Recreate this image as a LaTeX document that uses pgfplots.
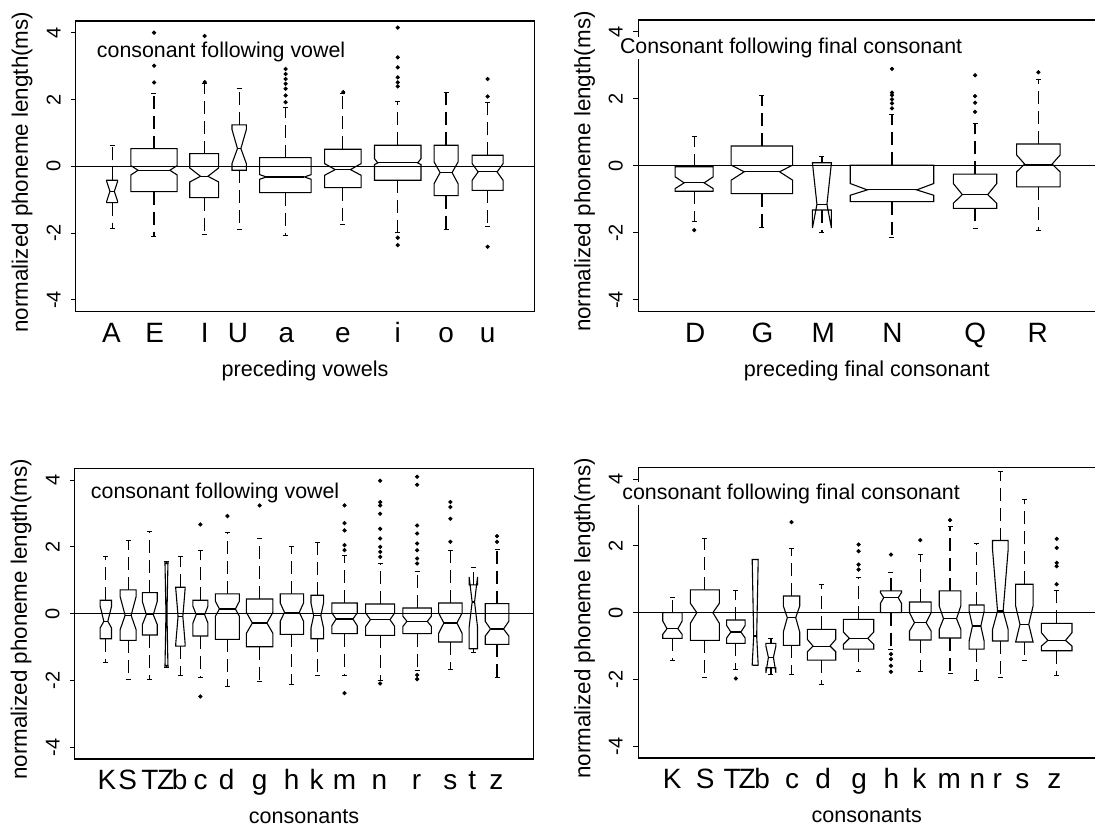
\documentclass[border=0pt]{standalone}
\usepackage{fontspec}
\setmainfont{Liberation Sans}
\usepackage{pgfplots}
\usepackage{pgfplotstable}
\pgfplotsset{compat=1.18}

% boxes: x-centre (px), half width (px), notch inset (px), q1, lower notch, median, upper notch, q3, lower whisker, upper whisker
\pgfplotstableread{
x hw ni q1 nlo med nhi q3 wlo whi
112.3 5.5 3.3 -1.09 -1.05 -0.75 -0.45 -0.42 -1.86 0.63
154.2 23.2 7.3 -0.76 -0.26 -0.12 0.02 0.53 -2.09 2.17
204.5 14.5 10.8 -0.94 -0.47 -0.30 -0.05 0.38 -2.03 2.47
239.5 7.2 5.5 -0.12 0.08 0.53 1.10 1.24 -1.88 2.34
285.8 25.8 6.7 -0.79 -0.39 -0.32 -0.25 0.26 -2.08 1.77
343.3 18.3 10.7 -0.64 -0.27 -0.10 0.08 0.51 -1.74 2.19
398.3 23.3 3.3 -0.42 0.05 0.10 0.23 0.63 -1.99 1.94
446.7 12.0 6.0 -0.88 -0.52 -0.19 0.13 0.63 -1.88 2.22
488.3 15.5 6.0 -0.72 -0.42 -0.17 0.08 0.33 -1.81 1.90
}\boxA
\pgfplotstableread{
x y
154.3 4.00
154.3 3.01
154.3 2.51
205.0 3.90
205.0 2.52
286.0 1.92
286.0 2.12
286.0 2.32
286.0 2.47
286.0 2.61
286.0 2.76
286.0 2.91
343.7 2.22
398.3 2.39
398.3 2.51
398.3 2.66
398.3 2.96
398.3 3.26
398.3 4.15
398.3 -2.14
398.3 -2.36
488.3 2.09
488.3 2.61
488.3 -2.41
}\outA

\pgfplotstableread{
x hw ni q1 nlo med nhi q3 wlo whi
695.0 19.0 9.0 -0.76 -0.68 -0.51 -0.33 -0.03 -1.65 0.87
762.7 30.7 13.0 -0.83 -0.43 -0.18 0.02 0.59 -1.85 2.09
822.7 9.5 4.5 -1.32 -1.86 -1.15 0.09 0.09 -2.00 0.29
892.7 41.7 17.0 -1.07 -0.88 -0.72 -0.53 0.02 -2.15 1.53
975.7 21.7 9.0 -1.27 -1.12 -0.86 -0.53 -0.25 -1.88 1.26
1039.0 21.7 8.0 -0.63 -0.18 0.05 0.32 0.65 -1.94 2.58
}\boxB
\pgfplotstableread{
x y
695.0 -1.92
892.7 1.71
892.7 1.86
892.7 1.98
892.7 2.11
892.7 2.18
892.7 2.89
975.7 1.61
975.7 1.88
975.7 2.08
975.7 2.70
1039.0 2.79
}\outB

\pgfplotstableread{
x hw ni q1 nlo med nhi q3 wlo whi
106.0 5.7 3.7 -0.75 -0.43 -0.23 0.22 0.40 -1.47 1.72
128.3 8.0 5.0 -0.80 -0.48 -0.05 0.51 0.71 -1.96 2.20
150.0 7.5 4.0 -0.64 -0.33 -0.03 0.37 0.63 -1.96 2.45
166.7 1.5 1.0 -1.55 -1.61 0.00 1.55 1.50 -1.61 1.55
180.7 4.7 2.3 -0.97 -0.90 -0.08 0.75 0.79 -1.84 1.70
200.7 7.5 3.3 -0.67 -0.28 -0.03 0.22 0.40 -1.92 1.90
227.7 12.0 4.0 -0.77 -0.08 0.14 0.37 0.59 -2.19 2.42
260.0 13.3 6.0 -0.99 -0.59 -0.28 0.04 0.44 -2.04 2.25
292.3 11.7 4.3 -0.62 -0.23 0.04 0.32 0.59 -2.12 2.00
317.7 6.3 2.7 -0.75 -0.43 -0.06 0.32 0.55 -1.84 2.12
345.0 12.7 4.3 -0.60 -0.36 -0.16 0.02 0.32 -1.84 1.75
380.7 14.5 4.7 -0.65 -0.38 -0.18 0.02 0.29 -2.01 1.50
417.7 14.2 4.0 -0.60 -0.38 -0.23 -0.08 0.17 -1.71 1.26
451.0 11.8 5.3 -0.85 -0.59 -0.28 0.02 0.32 -1.66 1.90
474.0 4.2 3.0 -1.05 -0.40 0.35 1.10 0.86 -1.15 1.39
497.7 11.8 5.3 -0.92 -0.67 -0.46 -0.23 0.30 -1.91 1.92
}\boxC
\pgfplotstableread{
x y
200.7 2.67
200.7 -2.48
227.7 2.92
260.0 3.24
345.0 1.90
345.0 2.05
345.0 2.49
345.0 2.71
345.0 3.24
345.0 -2.38
380.7 1.70
380.7 1.85
380.7 2.00
380.7 2.25
380.7 2.54
380.7 2.99
380.7 3.24
380.7 3.34
380.7 3.98
380.7 -2.09
417.7 1.50
417.7 1.65
417.7 1.90
417.7 2.10
417.7 2.40
417.7 2.64
417.7 3.86
417.7 4.10
417.7 -1.84
417.7 -1.96
451.0 2.15
451.0 2.84
451.0 3.19
451.0 3.34
497.7 2.15
497.7 2.32
}\outC

\pgfplotstableread{
x hw ni q1 nlo med nhi q3 wlo whi
673.3 9.7 4.3 -0.77 -0.65 -0.48 -0.25 0.00 -1.44 0.45
705.7 14.5 6.5 -0.83 -0.32 0.00 0.28 0.68 -1.95 2.21
736.7 9.3 4.3 -0.92 -0.76 -0.58 -0.38 -0.22 -1.69 0.65
756.0 3.0 1.5 -1.57 -1.57 -0.70 1.59 1.59 -1.57 1.59
771.7 5.0 2.5 -1.65 -1.80 -1.34 -1.00 -0.92 -1.84 -0.78
792.3 8.2 4.0 -0.98 -0.58 -0.15 0.20 0.50 -1.85 1.91
822.3 14.2 5.7 -1.42 -1.17 -1.00 -0.80 -0.50 -2.15 0.85
859.3 15.2 6.0 -1.09 -0.95 -0.77 -0.58 -0.20 -1.77 1.04
891.7 10.5 3.3 0.00 0.28 0.45 0.60 0.65 -1.09 1.19
921.0 10.8 5.0 -0.82 -0.55 -0.30 0.00 0.32 -1.77 1.74
950.7 10.8 4.3 -0.76 -0.50 -0.18 0.20 0.65 -1.81 2.57
977.3 7.5 3.3 -1.09 -0.85 -0.40 0.05 0.23 -2.04 2.06
1001.0 7.8 5.0 -0.85 -0.50 0.05 1.89 2.16 -1.95 4.23
1025.0 8.7 4.3 -0.88 -0.88 -0.35 0.20 0.85 -1.42 3.40
1057.3 15.3 6.5 -1.14 -1.00 -0.83 -0.60 -0.32 -1.87 0.65
}\boxD
\pgfplotstableread{
x y
736.7 -1.97
792.3 2.71
859.3 1.29
859.3 1.44
859.3 1.84
859.3 2.04
891.7 1.74
891.7 -1.24
891.7 -1.39
891.7 -1.59
891.7 -1.77
921.0 2.17
950.7 2.77
1057.3 0.85
1057.3 1.39
1057.3 1.49
1057.3 1.94
1057.3 2.21
}\outD

\newcommand\drawboxes[1]{%
  \pgfplotstablegetrowsof{#1}%
  \pgfmathtruncatemacro\nrows{\pgfplotsretval-1}%
  \pgfplotsforeachungrouped \rr in {0,...,\nrows}{%
    \pgfplotstablegetelem{\rr}{x}\of#1\let\bx\pgfplotsretval
    \pgfplotstablegetelem{\rr}{hw}\of#1\let\bhw\pgfplotsretval
    \pgfplotstablegetelem{\rr}{ni}\of#1\let\bni\pgfplotsretval
    \pgfplotstablegetelem{\rr}{q1}\of#1\let\bqa\pgfplotsretval
    \pgfplotstablegetelem{\rr}{nlo}\of#1\let\bnlo\pgfplotsretval
    \pgfplotstablegetelem{\rr}{med}\of#1\let\bmed\pgfplotsretval
    \pgfplotstablegetelem{\rr}{nhi}\of#1\let\bnhi\pgfplotsretval
    \pgfplotstablegetelem{\rr}{q3}\of#1\let\bqc\pgfplotsretval
    \pgfplotstablegetelem{\rr}{wlo}\of#1\let\bwlo\pgfplotsretval
    \pgfplotstablegetelem{\rr}{whi}\of#1\let\bwhi\pgfplotsretval
    \pgfmathsetmacro\xl{\bx-\bhw}%
    \pgfmathsetmacro\xr{\bx+\bhw}%
    \pgfmathsetmacro\xil{\xl+\bni}%
    \pgfmathsetmacro\xir{\xr-\bni}%
    \pgfmathsetmacro\sl{\bx-2.5}%
    \pgfmathsetmacro\sr{\bx+2.5}%
    \edef\doit{%
      \noexpand\addplot[boxln] coordinates {(\xl,\bqa) (\xl,\bnlo) (\xil,\bmed) (\xl,\bnhi) (\xl,\bqc) (\xr,\bqc) (\xr,\bnhi) (\xir,\bmed) (\xr,\bnlo) (\xr,\bqa)} -- cycle;
      \noexpand\addplot[boxln] coordinates {(\xil,\bmed) (\xir,\bmed)};
      \noexpand\addplot[whisk] coordinates {(\bx,\bqc) (\bx,\bwhi)};
      \noexpand\addplot[whisk] coordinates {(\bx,\bqa) (\bx,\bwlo)};
      \noexpand\addplot[boxln] coordinates {(\sl,\bwhi) (\sr,\bwhi)};
      \noexpand\addplot[boxln] coordinates {(\sl,\bwlo) (\sr,\bwlo)};
    }\doit
  }%
}

\pgfplotsset{
  boxln/.style={black, line width=0.55pt, line join=miter, mark=none},
  whisk/.style={black, line width=0.6pt, dash pattern=on 6.5pt off 3.5pt, mark=none},
  outl/.style={black, only marks, mark=*, mark size=0.85pt},
  panel/.style={
    scale only axis,
    anchor=north west,
    ymin=-4.35, ymax=4.35,
    ytick={-4,-2,0,2,4},
    yticklabels={-4,-2,0,2,4},
    tick align=outside,
    major tick length=2.5pt,
    ytick pos=left,
    xtick pos=bottom,
    xtick style={draw=none},
    ytick style={black, line width=0.5pt},
    axis line style={black, line width=0.6pt},
    yticklabel style={rotate=90, anchor=south, inner sep=5pt, font=\fontsize{10}{12}\selectfont},
    xticklabel style={anchor=base, inner sep=0pt, yshift=-13pt, font=\fontsize{14}{16}\selectfont},
    ylabel={normalized phoneme length(ms)},
    ylabel style={at={(axis description cs:-0.1046,0.48)}, anchor=base, font=\fontsize{11.2}{13}\selectfont},
    xlabel style={at={(axis description cs:0.5,0)}, anchor=base, yshift=-32.5pt, font=\fontsize{10.8}{13}\selectfont},
    clip mode=individual,
  },
  openpanel/.style={axis y line*=left, axis x line*=box},
}

\begin{document}
\begin{tikzpicture}
\path (0,0) rectangle (548pt,416pt);

% ---------- top left ----------
\begin{axis}[panel, at={(38pt,405.5pt)}, width=229.5pt, height=145.5pt,
  xmin=76, xmax=535,
  xtick={111.7,155,205,238.3,286.7,343.3,398.3,446.7,488.3},
  xticklabels={A,E,I,U,a,e,i,o,u},
  xlabel={preceding vowels}]
  \addplot[boxln] coordinates {(76,0) (535,0)};
  \drawboxes{\boxA}
  \addplot[outl] table {\outA};
  \node[anchor=base west, inner sep=0pt, font=\fontsize{10.7}{12}\selectfont] at (axis cs:96.7,3.26) {consonant following vowel};
\end{axis}

% ---------- top right ----------
\begin{axis}[panel, openpanel, at={(319.5pt,406pt)}, width=228.5pt, height=146pt,
  xmin=639, xmax=1096,
  xtick={696,763.3,824,893.3,976,1038.3},
  xticklabels={D,G,M,N,Q,R},
  xlabel={preceding final consonant}]
  \addplot[boxln] coordinates {(639,0) (1096,0)};
  \drawboxes{\boxB}
  \addplot[outl] table {\outB};
  \node[anchor=base west, inner sep=0.6pt, fill=white, font=\fontsize{10.7}{12}\selectfont] at (axis cs:619.3,3.35) {Consonant following final consonant};
\end{axis}

% ---------- bottom left ----------
\begin{axis}[panel, at={(37.5pt,181.5pt)}, width=229.5pt, height=145.5pt,
  xmin=75, xmax=534,
  xtick={107,128,150,166,180,201,227,260,292,317,345,380,417,451,473,497},
  xticklabels={K,S,T,Z,b,c,d,g,h,k,m,n,r,s,t,z},
  xlabel={consonants}]
  \addplot[boxln] coordinates {(75,0) (534,0)};
  \drawboxes{\boxC}
  \addplot[outl] table {\outC};
  \node[anchor=base west, inner sep=0pt, font=\fontsize{10.7}{12}\selectfont] at (axis cs:90.7,3.45) {consonant following vowel};
\end{axis}

% ---------- bottom right ----------
\begin{axis}[panel, openpanel, at={(319.5pt,182pt)}, width=228.5pt, height=145.5pt,
  xmin=639, xmax=1096,
  xtick={673,706,733,748,763,793,824,860,892,920,950,978,998,1023,1055},
  xticklabels={K,S,T,Z,b,c,d,g,h,k,m,n,r,s,z},
  xlabel={consonants}]
  \addplot[boxln] coordinates {(639,0) (1096,0)};
  \drawboxes{\boxD}
  \addplot[outl] table {\outD};
  \node[anchor=base west, inner sep=0.6pt, fill=white, font=\fontsize{10.7}{12}\selectfont] at (axis cs:621.7,3.40) {consonant following final consonant};
\end{axis}
\end{tikzpicture}
\end{document}
